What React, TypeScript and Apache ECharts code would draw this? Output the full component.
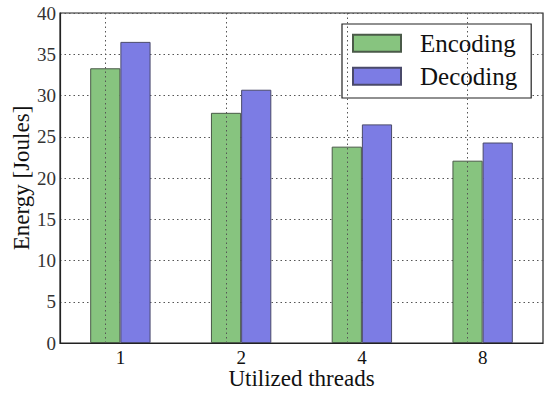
import React, { useEffect, useRef } from "react";
import * as echarts from "echarts";

const categories = ["1", "2", "4", "8"];
const encoding = [33.3, 27.9, 23.8, 22.1];
const decoding = [36.5, 30.7, 26.5, 24.3];
const seriesNames = ["Encoding", "Decoding"];
const yTicksMax = 40;

const FONT = "'Liberation Serif', 'DejaVu Serif', serif";

export default function App() {
  const ref = useRef<HTMLDivElement>(null);
  useEffect(() => {
    if (!ref.current) return;
    const chart = echarts.init(ref.current, null, { renderer: "svg" });
    const dotted = { color: "#555", type: [1.5, 3] as any, width: 1 };
    chart.setOption({
      animation: false,
      textStyle: { fontFamily: FONT },
      grid: {
        left: 60,
        right: 6,
        top: 13,
        bottom: 50,
        outerBoundsMode: "none",
        containLabel: false,
        show: true,
        borderColor: "#222",
        borderWidth: 1.2,
        backgroundColor: "transparent",
      },
      legend: {
        left: 342,
        top: 24,
        orient: "vertical",
        data: seriesNames,
        itemWidth: 48,
        itemHeight: 17,
        itemGap: 8,
        padding: [6.75, 14, 9.25, 10],
        backgroundColor: "#fff",
        borderColor: "#222",
        borderWidth: 1.2,
        borderRadius: 0,
        icon: "rect",
        textStyle: {
          fontFamily: FONT,
          fontSize: 25,
          color: "#111",
          padding: [0, 0, 0, 14],
        },
      },
      xAxis: {
        type: "category",
        data: categories,
        name: "Utilized threads",
        nameLocation: "middle",
        nameGap: 24,
        nameMoveOverlap: false,
        nameTextStyle: { fontFamily: FONT, fontSize: 23, lineHeight: 23, color: "#111" },
        axisLine: { show: true, lineStyle: { color: "#222", width: 1.2 } },
        axisTick: { show: false },
        axisLabel: { fontFamily: FONT, fontSize: 19, lineHeight: 19, color: "#111", margin: 5 },
        splitLine: { show: false },
      },
      yAxis: {
        type: "value",
        min: 0,
        max: yTicksMax,
        interval: 5,
        name: "Energy [Joules]",
        nameLocation: "middle",
        nameGap: 27,
        nameMoveOverlap: false,
        nameTextStyle: { fontFamily: FONT, fontSize: 23, color: "#111" },
        axisLine: { show: true, lineStyle: { color: "#222", width: 1.2 } },
        axisTick: { show: false },
        axisLabel: { fontFamily: FONT, fontSize: 19, color: "#333", margin: 4 },
        splitLine: { show: true, lineStyle: dotted },
      },
      series: [
        {
          name: seriesNames[0],
          type: "bar",
          data: encoding,
          barWidth: "25%",
          barGap: "0%",
          itemStyle: { color: "#87c47f", borderColor: "#4a5a48", borderWidth: 1 },
          markLine: {
            silent: true,
            symbol: "none",
            label: { show: false },
            lineStyle: dotted,
            data: categories.map((c) => ({ xAxis: c })),
          },
        },
        {
          name: seriesNames[1],
          type: "bar",
          data: decoding,
          barWidth: "25%",
          barGap: "0%",
          itemStyle: { color: "#7c7ce4", borderColor: "#4a4a6a", borderWidth: 1 },
        },
      ],
    });
    return () => chart.dispose();
  }, []);
  return (
    <div
      ref={ref}
      style={{ position: "absolute", left: 0, top: 0, width: 549, height: 393 }}
    />
  );
}
